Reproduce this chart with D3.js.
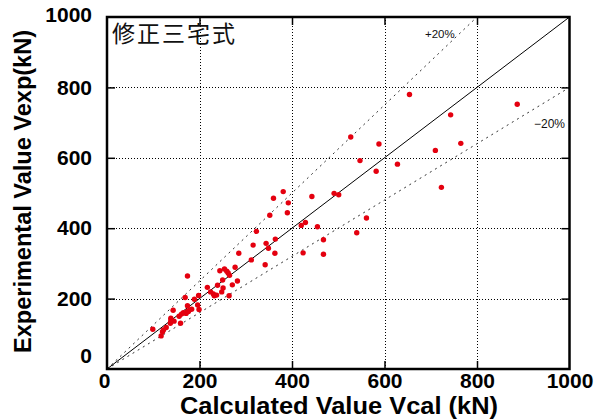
<!DOCTYPE html>
<html>
<head>
<meta charset="utf-8">
<script src="https://cdn.jsdelivr.net/npm/d3@7"></script>
<style>
  body { margin: 0; background: white; }
  svg { display: block; }
</style>
</head>
<body>
<svg id="chart" width="605" height="419"></svg>
<script>
// calculated (Vcal) vs experimental (Vexp) shear strength, kN
let vcal = [99, 117, 120, 122, 128, 137, 138, 138, 145, 143, 156, 159, 161, 165, 171, 174, 176, 179, 183,
    169, 174, 174, 189, 196, 198, 199, 217, 224, 230, 232, 237, 239, 248, 250, 251, 244, 254, 259, 262,
    264, 265, 271, 277, 282, 285, 312, 316, 323, 342, 344, 349, 352, 360, 363, 364, 381, 390, 392, 420,
    424, 429, 443, 455, 468, 468, 491, 501, 527, 540, 547, 561, 582, 588, 628, 654, 710, 723, 743, 765, 887]
let vexp = [113, 94, 106, 111, 118, 130, 137, 144, 136, 167, 150, 130, 156, 160, 158, 164, 163, 168, 170,
    203, 264, 180, 198, 182, 209, 169, 232, 219, 213, 208, 210, 238, 219, 253, 230, 279, 284, 278, 273,
    208, 266, 239, 289, 250, 329, 310, 352, 391, 296, 357, 343, 437, 485, 329, 369, 504, 444, 472, 408,
    330, 416, 490, 404, 367, 326, 499, 495, 659, 387, 592, 429, 562, 639, 582, 780, 621, 516, 722, 641, 752]

let gridValues = [200, 400, 600, 800]
let tickValues = [0, 200, 400, 600, 800, 1000]
let bandLines = [
    {name: "+20%", slope: 1.25},
    {name: "−20%", slope: 0.8}
]

let svg = d3.select("#chart")

let x = d3.scaleLinear().domain([0, 1000]).range([107, 569.5])
let y = d3.scaleLinear().domain([0, 1000]).range([369, 17])

let plotLeft = x(0), plotRight = x(1000), plotTop = y(1000), plotBottom = y(0)

// dotted grid
svg.append("g")
    .attr("transform", "translate(0," + plotBottom + ")")
    .call(d3.axisBottom(x).tickValues(gridValues).tickSize(-(plotBottom - plotTop)).tickFormat(""))
    .call(g => g.select(".domain").remove())
    .selectAll("line")
    .attr("stroke", "black")
    .attr("stroke-width", 1)
    .attr("stroke-dasharray", "1,2")
    .attr("shape-rendering", "crispEdges")

svg.append("g")
    .attr("transform", "translate(" + plotLeft + ",0)")
    .call(d3.axisLeft(y).tickValues(gridValues).tickSize(-(plotRight - plotLeft)).tickFormat(""))
    .call(g => g.select(".domain").remove())
    .selectAll("line")
    .attr("stroke", "black")
    .attr("stroke-width", 1)
    .attr("stroke-dasharray", "1,2")
    .attr("shape-rendering", "crispEdges")

// inward ticks on all four sides
let tickLen = 8
let sides = [
    [d3.axisBottom(x), "translate(0," + plotBottom + ")"],
    [d3.axisTop(x), "translate(0," + plotTop + ")"],
    [d3.axisLeft(y), "translate(" + plotLeft + ",0)"],
    [d3.axisRight(y), "translate(" + plotRight + ",0)"]
]
sides.forEach(function(s){
    svg.append("g")
        .attr("transform", s[1])
        .call(s[0].tickValues(gridValues).tickSize(-tickLen).tickFormat(""))
        .call(g => g.select(".domain").remove())
        .selectAll("line")
        .attr("stroke", "black")
        .attr("stroke-width", 1.5)
})

// +/-20% lines
let bandEnd = function(slope){
    return slope > 1 ? [1000 / slope, 1000] : [1000, 1000 * slope]
}
bandLines.forEach(function(b){
    let e = bandEnd(b.slope)
    svg.append("line")
        .attr("x1", x(0)).attr("y1", y(0))
        .attr("x2", x(e[0])).attr("y2", y(e[1]))
        .attr("stroke", "#333")
        .attr("stroke-width", 1)
        .attr("stroke-dasharray", "2,4")
})

// 1:1 line
svg.append("line")
    .attr("x1", x(0)).attr("y1", y(0))
    .attr("x2", x(1000)).attr("y2", y(1000))
    .attr("stroke", "black")
    .attr("stroke-width", 1)

svg.append("text")
    .text(bandLines[0].name)
    .attr("x", 425).attr("y", 38)
    .attr("font-family", "Liberation Sans, Arial, sans-serif")
    .attr("font-size", "11.5px")
    .attr("fill", "#111")

svg.append("text")
    .text(bandLines[1].name)
    .attr("x", 534).attr("y", 128)
    .attr("font-family", "Liberation Sans, Arial, sans-serif")
    .attr("font-size", "12px")
    .attr("fill", "#111")

// points
svg.append("g")
    .selectAll("circle")
    .data(vcal)
    .enter()
    .append("circle")
    .attr("cx", d => x(d))
    .attr("cy", (d, i) => y(vexp[i]))
    .attr("r", 2.7)
    .attr("fill", "#e4000f")

// frame
svg.append("rect")
    .attr("x", plotLeft).attr("y", plotTop)
    .attr("width", plotRight - plotLeft).attr("height", plotBottom - plotTop)
    .attr("fill", "none")
    .attr("stroke", "black")
    .attr("stroke-width", 2.5)

// tick labels
let labelFont = "Liberation Sans, Arial, sans-serif"

svg.append("g")
    .attr("transform", "translate(0," + plotBottom + ")")
    .call(d3.axisBottom(x).tickValues(tickValues).tickSize(0).tickPadding(4).tickFormat(d3.format("d")))
    .call(g => g.select(".domain").remove())
    .selectAll("text")
    .attr("font-family", labelFont)
    .attr("font-weight", "bold")
    .attr("font-size", "21px")
    .attr("fill", "black")
    .attr("dx", d => d === 0 ? -3 : 0)

svg.append("g")
    .attr("transform", "translate(" + plotLeft + ",0)")
    .call(d3.axisLeft(y).tickValues(tickValues).tickSize(0).tickPadding(15).tickFormat(d3.format("d")))
    .call(g => g.select(".domain").remove())
    .selectAll("text")
    .attr("font-family", labelFont)
    .attr("font-weight", "bold")
    .attr("font-size", "21px")
    .attr("fill", "black")
    .attr("transform", d => d === 0 ? "translate(0,-13)" : d === 1000 ? "translate(0,-2)" : null)

// axis titles
svg.append("text")
    .text("Calculated Value Vcal (kN)")
    .attr("x", 339).attr("y", 414)
    .attr("text-anchor", "middle")
    .attr("font-family", labelFont)
    .attr("font-weight", "bold")
    .attr("font-size", "23px")
    .attr("textLength", 318)
    .attr("lengthAdjust", "spacingAndGlyphs")

svg.append("text")
    .text("Experimental Value Vexp(kN)")
    .attr("transform", "translate(30.5,191.5) rotate(-90)")
    .attr("text-anchor", "middle")
    .attr("font-family", labelFont)
    .attr("font-weight", "bold")
    .attr("font-size", "23px")
    .attr("textLength", 323)
    .attr("lengthAdjust", "spacingAndGlyphs")

// chart title inside the plot
svg.append("text")
    .text("修正三宅式")
    .attr("x", 112).attr("y", 41.5)
    .attr("font-family", "Noto Sans CJK JP, sans-serif")
    .attr("font-size", "23px")
    .attr("letter-spacing", "2px")
    .attr("fill", "#111")
</script>
</body>
</html>
